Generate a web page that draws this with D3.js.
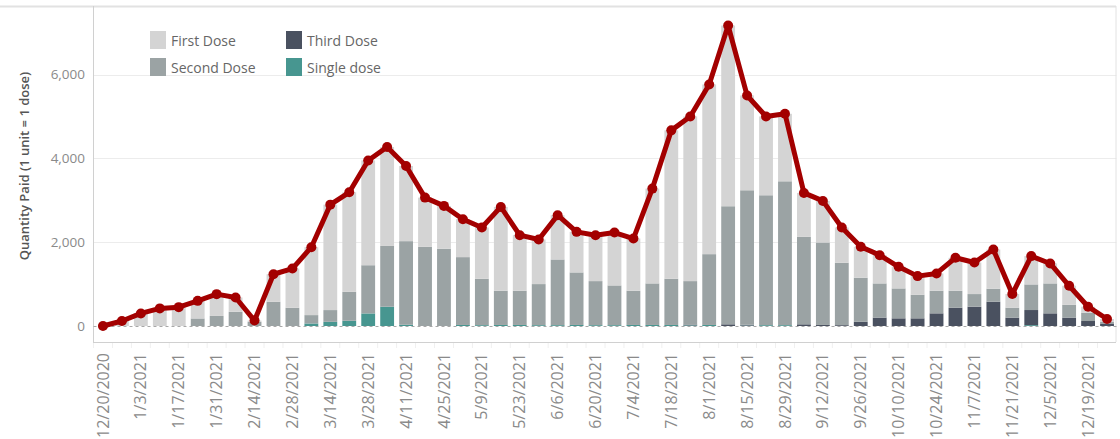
<!DOCTYPE html>
<html>
<head>
<meta charset="utf-8">
<script src="https://cdn.jsdelivr.net/npm/d3@7"></script>
<style>
  body { margin: 0; background: #fff; }
  svg { font-family: 'Open Sans', sans-serif; }
</style>
</head>
<body>
<div id="chart"></div>
<script>
'use strict';

var weeks = ['12/20/2020','12/27/2020','1/3/2021','1/10/2021','1/17/2021','1/24/2021','1/31/2021','2/7/2021',
  '2/14/2021','2/21/2021','2/28/2021','3/7/2021','3/14/2021','3/21/2021','3/28/2021','4/4/2021',
  '4/11/2021','4/18/2021','4/25/2021','5/2/2021','5/9/2021','5/16/2021','5/23/2021','5/30/2021',
  '6/6/2021','6/13/2021','6/20/2021','6/27/2021','7/4/2021','7/11/2021','7/18/2021','7/25/2021',
  '8/1/2021','8/8/2021','8/15/2021','8/22/2021','8/29/2021','9/5/2021','9/12/2021','9/19/2021',
  '9/26/2021','10/3/2021','10/10/2021','10/17/2021','10/24/2021','10/31/2021','11/7/2021','11/14/2021',
  '11/21/2021','11/28/2021','12/5/2021','12/12/2021','12/19/2021','12/26/2021'];

var firstDose  = [0,120,300,420,450,420,520,340, 30,655,935,1620,2515,2375,2500,2360,
  1793,1174,1024,905,1222,2000,1326,1063, 1056,968,1096,1262,1246,2262,3540,3929,
  4048,4310,2262,1881,1611,1048,992,841, 738,674,516,444,413,786,754,936,
  325,675,476,452,143,67];
var secondDose = [0,0,0,0,0,180,240,340, 100,580,435,200,280,690,1150,1450,
  1994,1889,1841,1618,1107,816,816,980, 1567,1253,1051,948,816,991,1102,1036,
  1689,2817,3208,3099,3432,2087,1967,1488, 1051,816,714,563,539,404,302,309,
  237,611,714,308,198,40];
var thirdDose  = [0,0,0,0,0,0,0,0, 0,0,0,0,0,0,0,0,
  0,0,0,0,0,0,0,0, 0,0,0,0,0,0,0,20,
  0,40,20,0,0,40,25,20, 100,200,183,183,302,437,460,580,
  200,361,302,200,119,60];
var singleDose = [0,0,0,0,0,0,0,0, 0,0,0,60,100,125,300,460,
  30,0,0,25,20,25,25,20, 20,25,20,20,25,25,25,15,
  25,0,10,20,20,0,0,0, 0,0,0,0,0,0,0,0,
  0,20,0,0,0,0];

var yTicks = [0, 2000, 4000, 6000];

var grafico = {};

grafico.w = 1120;
grafico.h = 439;
grafico.left = 93.5;
grafico.right = 1116.5;
grafico.top = 6;
grafico.bottom = 342;
grafico.keys = ['single', 'third', 'second', 'first'];
grafico.cores = {first: '#d4d4d4', second: '#9ba3a4', third: '#4a5160', single: '#479690'};
grafico.nomes = {first: 'First Dose', second: 'Second Dose', third: 'Third Dose', single: 'Single dose'};

grafico.dados = function ()
{
    var rows = [];
    for (var i = 0; i < weeks.length; i++) {
        rows.push({week: weeks[i], first: firstDose[i], second: secondDose[i],
                   third: thirdDose[i], single: singleDose[i],
                   total: firstDose[i] + secondDose[i] + thirdDose[i] + singleDose[i]});
    }
    return rows;
}

grafico.desenha = function (div)
{
    var rows = grafico.dados();
    var svg = d3.select(div).append('svg')
        .attr('width', grafico.w)
        .attr('height', grafico.h);

    var x = d3.scaleBand().domain(weeks).range([grafico.left, grafico.right]).paddingInner(0.27).paddingOuter(0.135);
    var y = d3.scaleLinear().domain([0, 6000]).range([326, 74.5]);

    // grid
    svg.append('g').selectAll('line')
        .data(yTicks.slice(1))
        .enter().append('line')
        .attr('x1', grafico.left).attr('x2', grafico.right)
        .attr('y1', function(d){ return Math.round(y(d)) + 0.5; })
        .attr('y2', function(d){ return Math.round(y(d)) + 0.5; })
        .attr('stroke', '#ececec');

    // frame
    svg.append('line').attr('x1', 0).attr('x2', 1116).attr('y1', 6.5).attr('y2', 6.5).attr('stroke', '#e2e2e2').attr('stroke-width', 2);
    svg.append('line').attr('x1', 1116).attr('x2', 1116).attr('y1', 6).attr('y2', grafico.bottom).attr('stroke', '#e2e2e2');
    svg.append('line').attr('x1', 93.5).attr('x2', 93.5).attr('y1', 6).attr('y2', grafico.bottom).attr('stroke', '#d0d0d0');
    svg.append('line').attr('x1', 93).attr('x2', 1116).attr('y1', grafico.bottom + 0.5).attr('y2', grafico.bottom + 0.5).attr('stroke', '#d0d0d0');

    // bars
    var stack = d3.stack().keys(grafico.keys);
    var series = stack(rows);
    svg.append('g').selectAll('g')
        .data(series)
        .enter().append('g')
        .attr('fill', function(d){ return grafico.cores[d.key]; })
        .selectAll('rect')
        .data(function(d){ return d; })
        .enter().append('rect')
        .attr('x', function(d){ return x(d.data.week); })
        .attr('width', x.bandwidth())
        .attr('y', function(d){ return y(d[1]); })
        .attr('height', function(d){ return Math.max(0, y(d[0]) - y(d[1])); });

    // zero line
    svg.append('line')
        .attr('x1', grafico.left).attr('x2', grafico.right)
        .attr('y1', y(0) + 0.5).attr('y2', y(0) + 0.5)
        .attr('stroke', '#a8a8a8')
        .attr('stroke-dasharray', '3,3');

    // total line
    var line = d3.line()
        .x(function(d){ return x(d.week) + x.bandwidth() / 2; })
        .y(function(d){ return y(d.total); });
    svg.append('path')
        .datum(rows)
        .attr('d', line)
        .attr('fill', 'none')
        .attr('stroke', '#a30000')
        .attr('stroke-width', 5)
        .attr('stroke-linejoin', 'round');
    svg.append('g').selectAll('circle')
        .data(rows)
        .enter().append('circle')
        .attr('cx', function(d){ return x(d.week) + x.bandwidth() / 2; })
        .attr('cy', function(d){ return y(d.total); })
        .attr('r', 5)
        .attr('fill', '#a30000');

    // y axis
    var yAxis = d3.axisLeft(y).tickValues(yTicks).tickSize(0).tickPadding(0).tickFormat(d3.format(','));
    var yg = svg.append('g').attr('transform', 'translate(85,0)').call(yAxis);
    yg.select('.domain').remove();
    yg.selectAll('text').attr('fill', '#8a8a8a').style('font-size', '13.5px').style('font-family', "'Open Sans', sans-serif");

    svg.append('text')
        .attr('transform', 'translate(29,166) rotate(-90)')
        .attr('text-anchor', 'middle')
        .attr('fill', '#555')
        .style('font-size', '13px')
        .style('font-weight', '600')
        .text('Quantity Paid (1 unit = 1 dose)');

    // x axis
    var xAxis = d3.axisBottom(x).tickSize(0).tickPadding(0)
        .tickValues(weeks.filter(function(d, i){ return i % 2 == 0; }));
    var xg = svg.append('g').attr('transform', 'translate(0,' + grafico.bottom + ')').call(xAxis);
    xg.select('.domain').remove();
    xg.selectAll('text')
        .attr('transform', 'rotate(-90)')
        .attr('text-anchor', 'end')
        .attr('x', -11)
        .attr('y', 0)
        .attr('dy', '0.35em')
        .attr('fill', '#8a8a8a')
        .style('font-size', '16px')
        .style('font-family', "'Open Sans', sans-serif");

    svg.append('g').selectAll('line')
        .data(weeks)
        .enter().append('line')
        .attr('x1', function(d){ return x(d) - x.step() * x.paddingInner() / 2; })
        .attr('x2', function(d){ return x(d) - x.step() * x.paddingInner() / 2; })
        .attr('y1', grafico.bottom + 1).attr('y2', grafico.bottom + 6)
        .attr('stroke', '#f0f0f0');

    // legend
    var legenda = [
        {key: 'first', x: 150, y: 31},
        {key: 'second', x: 150, y: 58},
        {key: 'third', x: 286, y: 31},
        {key: 'single', x: 286, y: 58}
    ];
    var lg = svg.append('g').attr('class', 'legendGroup');
    lg.selectAll('rect').data(legenda).enter().append('rect')
        .attr('x', function(d){ return d.x; })
        .attr('y', function(d){ return d.y; })
        .attr('width', 16).attr('height', 18)
        .attr('fill', function(d){ return grafico.cores[d.key]; });
    lg.selectAll('text').data(legenda).enter().append('text')
        .attr('x', function(d){ return d.x + 21; })
        .attr('y', function(d){ return d.y + 15; })
        .attr('fill', '#666')
        .style('font-size', '14px')
        .text(function(d){ return grafico.nomes[d.key]; });
}

grafico.desenha('#chart');
</script>
</body>
</html>
